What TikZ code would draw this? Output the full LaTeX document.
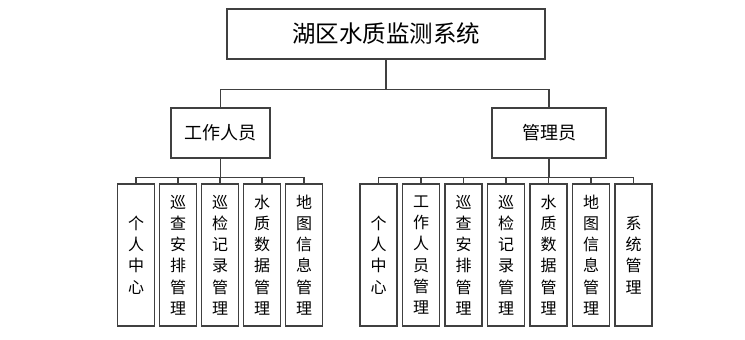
\documentclass[tikz,border=0pt]{standalone}
\usepackage{fontspec}
\usepackage{tikz}
\usetikzlibrary{positioning}
\newfontfamily\cjk{Noto Sans CJK SC}
\definecolor{linecolor}{RGB}{64,64,64}

\begin{document}
\begin{tikzpicture}[
    x=1pt, y=1pt,
    box/.style={draw=linecolor, line width=1.3pt, fill=white, inner sep=0pt, font=\cjk},
    leaf/.style={box, minimum width=37pt, minimum height=142pt, align=center, font=\cjk\fontsize{16}{21.2}\selectfont},
    link/.style={draw=linecolor, line width=1.3pt},
]
    \useasboundingbox (0,0) rectangle (745,-340);
    % top levels
    \node[box, minimum width=318pt, minimum height=50pt, font=\cjk\fontsize{23.5}{28}\selectfont] (sys) at (386,-34) {湖区水质监测系统};
    \node[box, minimum width=99pt, minimum height=50pt, font=\cjk\fontsize{18}{21}\selectfont] (worker) at (220.5,-133) {工作人员};
    \node[box, minimum width=114pt, minimum height=50pt, font=\cjk\fontsize{18}{21}\selectfont] (admin) at (549,-133) {管理员};
    \draw[link] (sys.south) -- ++(0,-30) -| (worker.north);
    \draw[link] (sys.south) -- ++(0,-30) -| (admin.north);

    % worker functions
    \node[leaf] (w1) at (136,-255) {个\\人\\中\\心};
    \node[leaf, right=3.7pt of w1] (w2) {巡\\查\\安\\排\\管\\理};
    \node[leaf, right=3.7pt of w2] (w3) {巡\\检\\记\\录\\管\\理};
    \node[leaf, right=3.7pt of w3] (w4) {水\\质\\数\\据\\管\\理};
    \node[leaf, right=3.7pt of w4] (w5) {地\\图\\信\\息\\管\\理};
    \draw[link] (worker.south) -- ++(0,-18.5) -| (w1.north);
    \draw[link] (worker.south) -- ++(0,-18.5) -| (w2.north);
    \draw[link] (worker.south) -- ++(0,-18.5) -| (w3.north);
    \draw[link] (worker.south) -- ++(0,-18.5) -| (w4.north);
    \draw[link] (worker.south) -- ++(0,-18.5) -| (w5.north);

    % admin functions
    \node[leaf] (a1) at (378.5,-255) {个\\人\\中\\心};
    \node[leaf, right=4.2pt of a1] (a2) {工\\作\\人\\员\\管\\理};
    \node[leaf, right=4.2pt of a2] (a3) {巡\\查\\安\\排\\管\\理};
    \node[leaf, right=4.2pt of a3] (a4) {巡\\检\\记\\录\\管\\理};
    \node[leaf, right=4.2pt of a4] (a5) {水\\质\\数\\据\\管\\理};
    \node[leaf, right=4.2pt of a5] (a6) {地\\图\\信\\息\\管\\理};
    \node[leaf, right=4.2pt of a6] (a7) {系\\统\\管\\理};
    \draw[link] (admin.south) -- ++(0,-18.5) -| (a1.north);
    \draw[link] (admin.south) -- ++(0,-18.5) -| (a2.north);
    \draw[link] (admin.south) -- ++(0,-18.5) -| (a3.north);
    \draw[link] (admin.south) -- ++(0,-18.5) -| (a4.north);
    \draw[link] (admin.south) -- ++(0,-18.5) -| (a5.north);
    \draw[link] (admin.south) -- ++(0,-18.5) -| (a6.north);
    \draw[link] (admin.south) -- ++(0,-18.5) -| (a7.north);
\end{tikzpicture}
\end{document}
